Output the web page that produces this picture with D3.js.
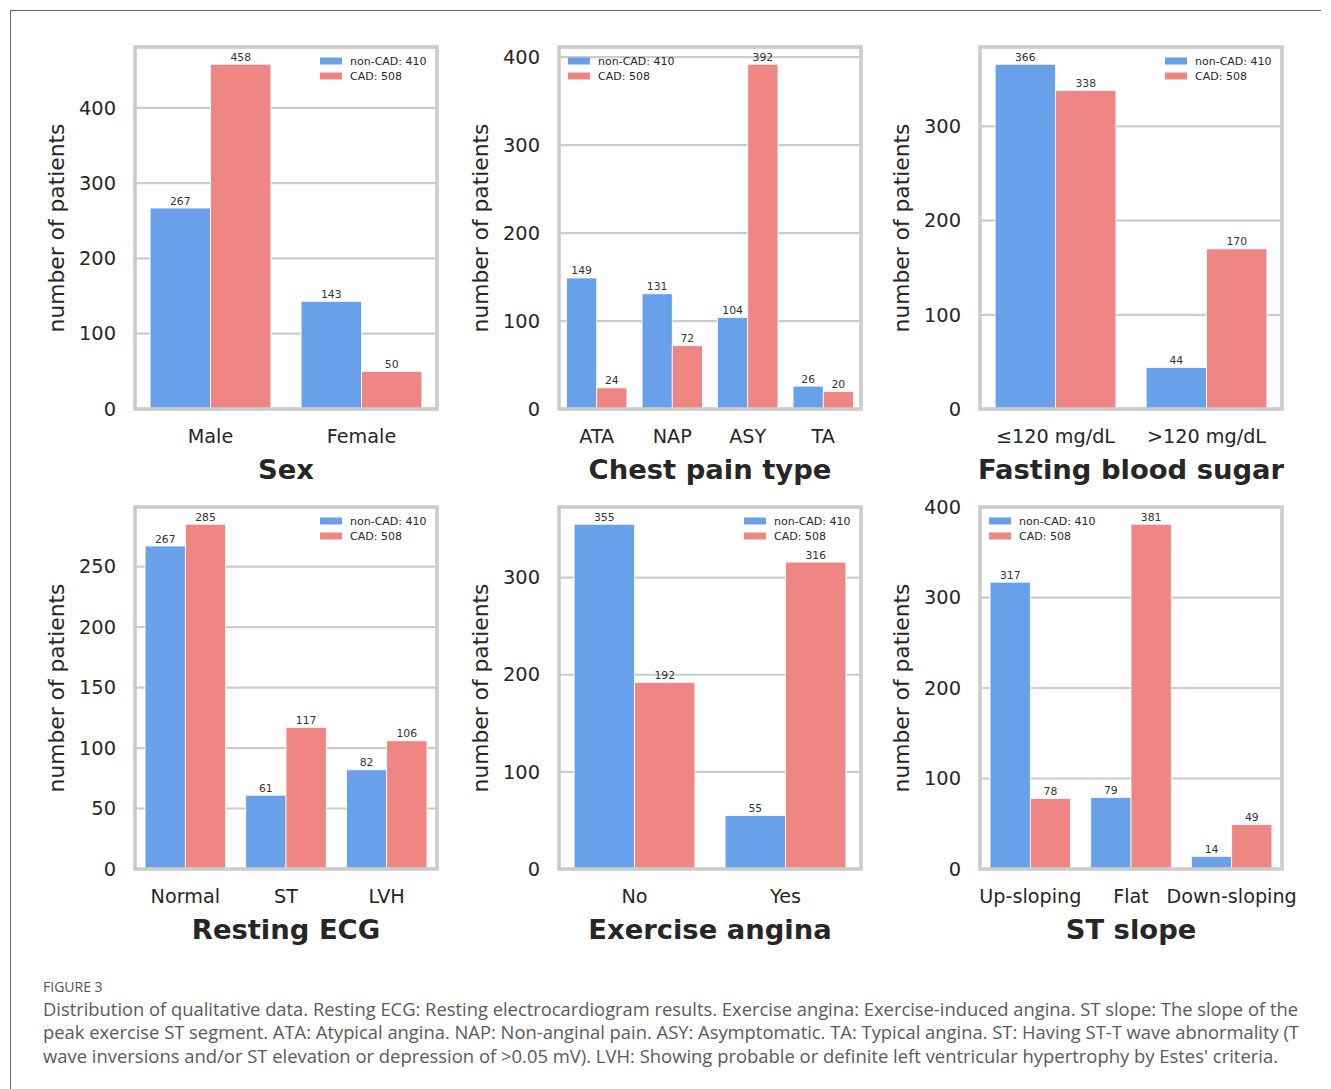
<!DOCTYPE html>
<html>
<head>
<meta charset="utf-8">
<script src="https://cdn.jsdelivr.net/npm/d3@7"></script>
<style>
  html, body { margin: 0; padding: 0; background: #fff; }
  svg { display: block; }
  .dv { font-family: 'DejaVu Sans', sans-serif; }
</style>
</head>
<body>
<svg id="fig" width="1331" height="1089"></svg>
<script>
// Series (hue) definitions
const seriesNames = ["non-CAD", "CAD"];
const seriesTotals = [410, 508];
const seriesColors = ["#68a1ea", "#ef8683"];

// Sex
const sexCategories = ["Male", "Female"];
const sexNonCAD = [267, 143];
const sexCAD = [458, 50];
const sexTicks = [0, 100, 200, 300, 400];

// Chest pain type
const cpCategories = ["ATA", "NAP", "ASY", "TA"];
const cpNonCAD = [149, 131, 104, 26];
const cpCAD = [24, 72, 392, 20];
const cpTicks = [0, 100, 200, 300, 400];

// Fasting blood sugar
const fbsCategories = ["≤120 mg/dL", ">120 mg/dL"];
const fbsNonCAD = [366, 44];
const fbsCAD = [338, 170];
const fbsTicks = [0, 100, 200, 300];

// Resting ECG
const ecgCategories = ["Normal", "ST", "LVH"];
const ecgNonCAD = [267, 61, 82];
const ecgCAD = [285, 117, 106];
const ecgTicks = [0, 50, 100, 150, 200, 250];

// Exercise angina
const angCategories = ["No", "Yes"];
const angNonCAD = [355, 55];
const angCAD = [192, 316];
const angTicks = [0, 100, 200, 300];

// ST slope
const slopeCategories = ["Up-sloping", "Flat", "Down-sloping"];
const slopeNonCAD = [317, 79, 14];
const slopeCAD = [78, 381, 49];
const slopeTicks = [0, 100, 200, 300, 400];

const captionHead = "FIGURE 3";
const captionLines = [
  "Distribution of qualitative data. Resting ECG: Resting electrocardiogram results. Exercise angina: Exercise-induced angina. ST slope: The slope of the",
  "peak exercise ST segment. ATA: Atypical angina. NAP: Non-anginal pain. ASY: Asymptomatic. TA: Typical angina. ST: Having ST-T wave abnormality (T",
  "wave inversions and/or ST elevation or depression of >0.05 mV). LVH: Showing probable or definite left ventricular hypertrophy by Estes' criteria."
];

const panels = [
  { title: "Sex", cats: sexCategories, vals: [sexNonCAD, sexCAD], ticks: sexTicks, legend: "right" },
  { title: "Chest pain type", cats: cpCategories, vals: [cpNonCAD, cpCAD], ticks: cpTicks, legend: "left" },
  { title: "Fasting blood sugar", cats: fbsCategories, vals: [fbsNonCAD, fbsCAD], ticks: fbsTicks, legend: "right" },
  { title: "Resting ECG", cats: ecgCategories, vals: [ecgNonCAD, ecgCAD], ticks: ecgTicks, legend: "right" },
  { title: "Exercise angina", cats: angCategories, vals: [angNonCAD, angCAD], ticks: angTicks, legend: "right" },
  { title: "ST slope", cats: slopeCategories, vals: [slopeNonCAD, slopeCAD], ticks: slopeTicks, legend: "left" }
];

// Layout
const colLeft = [135, 559, 980];
const rowTop = [47, 507];
const axW = 302, axH = 362;
const TXT = "#262626";
const GRID = "#cccccc";

const svg = d3.select("#fig");

// page frame lines
svg.append("line").attr("x1", 10).attr("x2", 1321).attr("y1", 10.5).attr("y2", 10.5)
  .attr("stroke", "#666").attr("stroke-width", 1);
svg.append("line").attr("x1", 10.5).attr("x2", 10.5).attr("y1", 10).attr("y2", 1089)
  .attr("stroke", "#666").attr("stroke-width", 1);

panels.forEach((p, i) => {
  const left = colLeft[i % 3], top = rowTop[Math.floor(i / 3)];
  const g = svg.append("g").attr("class", "dv").attr("transform", `translate(${left},${top})`);

  const maxVal = d3.max(p.vals.flat());
  const y = d3.scaleLinear().domain([0, maxVal * 1.05]).range([axH, 0]);
  const x = d3.scaleBand().domain(p.cats).range([0, axW]).paddingInner(0.2).paddingOuter(0.1);
  const xs = d3.scaleBand().domain(seriesNames).range([0, x.bandwidth()]);

  // horizontal grid
  g.append("g").selectAll("line").data(p.ticks).join("line")
    .attr("x1", 0).attr("x2", axW)
    .attr("y1", d => y(d)).attr("y2", d => y(d))
    .attr("stroke", GRID).attr("stroke-width", 2.2);

  // bars with value labels
  seriesNames.forEach((s, si) => {
    const gg = g.append("g");
    gg.selectAll("rect").data(p.cats).join("rect")
      .attr("x", c => x(c) + xs(s))
      .attr("y", (c, k) => y(p.vals[si][k]))
      .attr("width", xs.bandwidth())
      .attr("height", (c, k) => axH - y(p.vals[si][k]))
      .attr("fill", seriesColors[si])
      .attr("stroke", "#fff").attr("stroke-width", 0.8);
    gg.selectAll("text").data(p.cats).join("text")
      .attr("x", c => x(c) + xs(s) + xs.bandwidth() / 2)
      .attr("y", (c, k) => y(p.vals[si][k]) - 3.5)
      .attr("text-anchor", "middle")
      .style("font-size", "10.8px").attr("fill", "#333")
      .text((c, k) => p.vals[si][k]);
  });

  // frame
  g.append("rect").attr("x", 0).attr("y", 0).attr("width", axW).attr("height", axH)
    .attr("fill", "none").attr("stroke", GRID).attr("stroke-width", 3.6);

  // y axis
  const ya = g.append("g").call(d3.axisLeft(y).tickValues(p.ticks).tickSize(0).tickPadding(19));
  ya.attr("font-family", null).attr("font-size", null);
  ya.select(".domain").remove();
  ya.selectAll("text").style("font-size", "19.4px").attr("fill", TXT);

  // x axis
  const xa = g.append("g").attr("transform", `translate(0,${axH})`)
    .call(d3.axisBottom(x).tickSize(0).tickPadding(20));
  xa.attr("font-family", null).attr("font-size", null);
  xa.select(".domain").remove();
  xa.selectAll("text").style("font-size", "19.2px").attr("fill", TXT);

  // y label
  g.append("text")
    .attr("transform", `translate(-79,${axH / 2}) rotate(-90)`)
    .attr("text-anchor", "middle").attr("dominant-baseline", "central")
    .style("font-size", "21.8px").attr("fill", TXT)
    .text("number of patients");

  // x title
  g.append("text")
    .attr("x", axW / 2).attr("y", axH + 70)
    .attr("text-anchor", "middle")
    .style("font-size", "27.4px").style("font-weight", "bold").attr("fill", TXT)
    .text(p.title);

  // legend
  const lx = p.legend === "right" ? axW - 117 : 9;
  const lg = g.append("g").attr("transform", `translate(${lx},0)`);
  seriesNames.forEach((s, si) => {
    const yy = 14 + si * 15;
    lg.append("rect").attr("x", 0).attr("y", yy - 3.5).attr("width", 22).attr("height", 7)
      .attr("fill", seriesColors[si]);
    lg.append("text").attr("x", 30).attr("y", yy).attr("dominant-baseline", "central")
      .style("font-size", "11px").attr("fill", TXT)
      .text(`${s}: ${seriesTotals[si]}`);
  });
});

// caption
svg.append("text").attr("x", 43).attr("y", 992)
  .style("font-family", "'Open Sans', sans-serif").style("font-size", "14px").attr("fill", "#555")
  .text(captionHead);
const capEnds = [1298, 1299, 1278];
captionLines.forEach((line, i) => {
  svg.append("text").attr("x", 43).attr("y", 1016 + i * 23.3)
    .style("font-family", "'Open Sans', sans-serif").style("font-size", "17.5px").attr("fill", "#5a5a5a")
    .attr("textLength", capEnds[i] - 43).attr("lengthAdjust", "spacingAndGlyphs")
    .text(line);
});
</script>
</body>
</html>
